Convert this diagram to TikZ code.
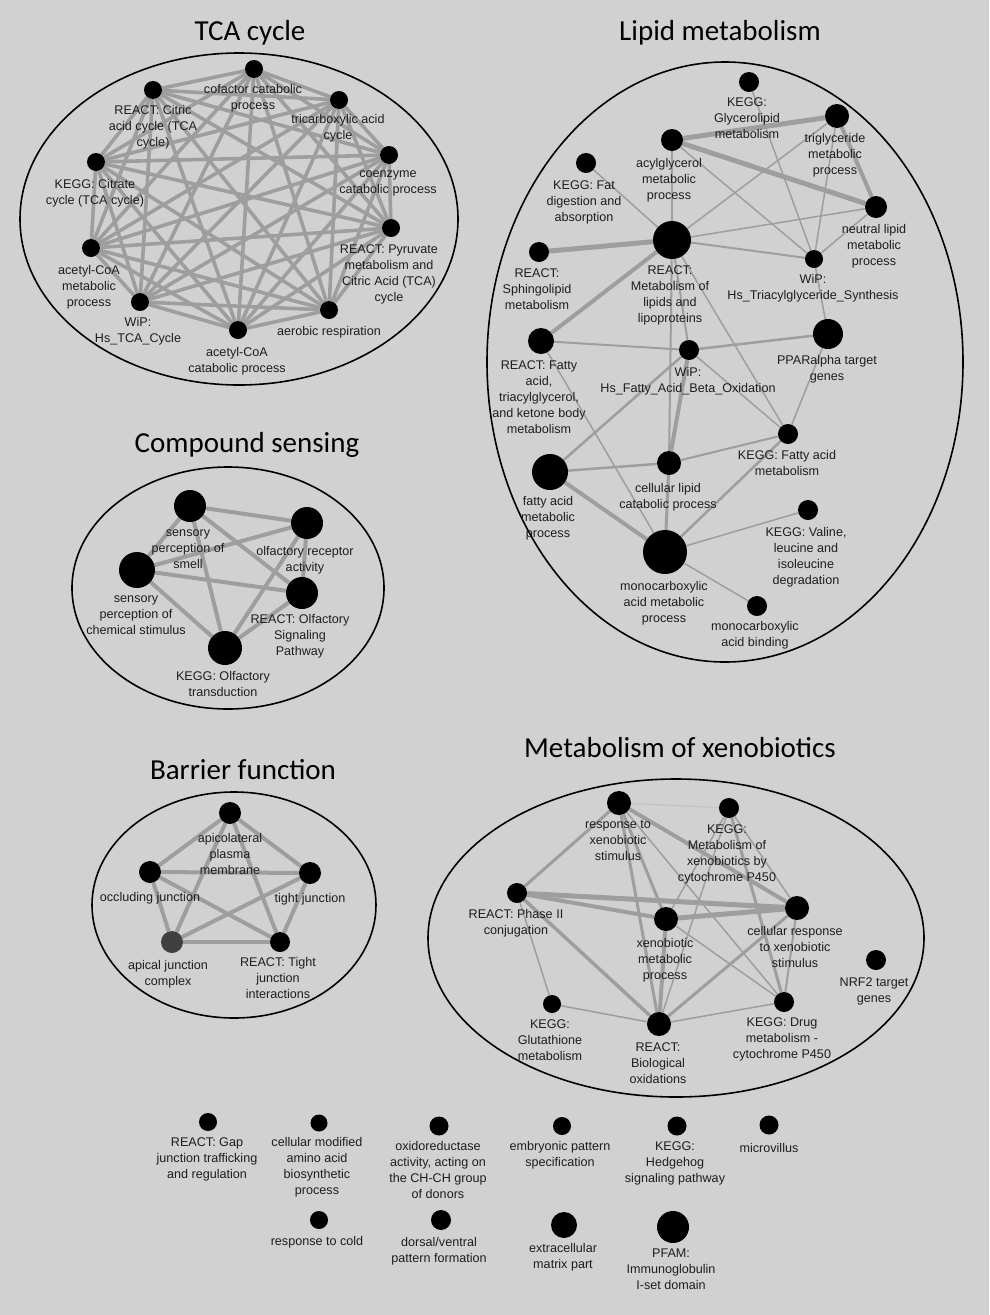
\documentclass[tikz,border=0pt]{standalone}
\usepackage{fontspec}
\setmainfont{Liberation Sans}
\newfontfamily\ttlfam{Carlito}
\usetikzlibrary{calc}
\definecolor{bgc}{RGB}{209,209,209}
\definecolor{edgec}{RGB}{158,158,158}
\definecolor{labelc}{RGB}{30,30,30}
\pgfdeclarelayer{back}
\pgfdeclarelayer{edges}
\pgfsetlayers{back,edges,main}
\newcommand\lblfont{\fontsize{12.6}{16}\selectfont}
\newcommand\ttlfont{\ttlfam\fontsize{29}{34}\selectfont}
\tikzset{
  dot/.style={circle, fill=black, draw=none, inner sep=0pt, minimum size=#1},
  lbl/.style={font=\lblfont, align=center, anchor=north, inner sep=0pt, yshift=4.9pt, text=labelc, execute at begin node=\strut},
  e/.style={draw=edgec, line width=#1},
  ttl/.style={font=\ttlfont, text=black, inner sep=0pt},
  grp/.style={draw=black, line width=1.6pt},
}
% name, x, y, diameter, label position, label text
\newcommand\nd[6]{\node[dot=#4] (#1) at (#2,#3) {}; \node[lbl] (#1l) at (#5) {#6};}
\newcommand\edg[3]{\draw[e=#1] (#2) -- (#3);}
\begin{document}
\begin{tikzpicture}[x=1pt,y=-1pt]
\useasboundingbox (0,0) rectangle (989,1315);
\begin{pgfonlayer}{back}
\fill[bgc] (0,0) rectangle (989,1315);
\draw[grp] (239,219) ellipse [x radius=219, y radius=166];
\draw[grp] (725,362) ellipse [x radius=238, y radius=300];
\draw[grp] (228,588) ellipse [x radius=156, y radius=121];
\draw[grp] (234,905) ellipse [x radius=142, y radius=113];
\draw[grp] (676,938) ellipse [x radius=248, y radius=159];
\end{pgfonlayer}

% titles
\node[ttl] (ttca) at (250,33) {TCA cycle};
\node[ttl] (tlip) at (720,33) {Lipid metabolism};
\node[ttl] (tcmp) at (247,445) {Compound sensing};
\node[ttl] (tbar) at (243,770) {Barrier function};
\node[ttl] (txen) at (680,748) {Metabolism of xenobiotics};

% ---------- TCA cycle ----------
\nd{t1}{254}{69}{18}{253,89}{cofactor catabolic\\process}
\nd{t2}{153}{90}{18}{153,110}{REACT: Citric\\acid cycle (TCA\\cycle)}
\nd{t3}{339}{100}{18}{338,119}{tricarboxylic acid\\cycle}
\nd{t4}{389}{155}{18}{388,175}{coenzyme\\catabolic process}
\nd{t5}{96}{162}{18}{95,184}{KEGG: Citrate\\cycle (TCA cycle)}
\nd{t6}{391}{228}{18}{389,249}{REACT: Pyruvate\\metabolism and\\Citric Acid (TCA)\\cycle}
\nd{t7}{91}{248}{18}{89,270}{acetyl-CoA\\metabolic\\process}
\nd{t8}{140}{302}{18}{138,322}{WiP:\\Hs\_TCA\_Cycle}
\nd{t9}{238}{330}{18}{237,352}{acetyl-CoA\\catabolic process}
\nd{t10}{329}{310}{18}{329,329}{aerobic respiration}
\begin{pgfonlayer}{edges}
\foreach \i in {1,...,9}{
  \pgfmathtruncatemacro\k{\i+1}
  \foreach \j in {\k,...,10}{\draw[e=3.6] (t\i) -- (t\j);}
}
\end{pgfonlayer}

% ---------- Lipid metabolism ----------
\nd{l1}{749}{82}{20}{747,102}{KEGG:\\Glycerolipid\\metabolism}
\nd{l2}{837}{116}{24}{835,138}{triglyceride\\metabolic\\process}
\nd{l3}{672}{140}{22}{669,163}{acylglycerol\\metabolic\\process}
\nd{l4}{586}{163}{20}{584,185}{KEGG: Fat\\digestion and\\absorption}
\nd{l5}{876}{207}{22}{874,229}{neutral lipid\\metabolic\\process}
\nd{l6}{672}{240}{38}{670,270}{REACT:\\Metabolism of\\lipids and\\lipoproteins}
\nd{l7}{539}{252}{20}{537,273}{REACT:\\Sphingolipid\\metabolism}
\nd{l8}{814}{259}{18}{813,279}{WiP:\\Hs\_Triacylglyceride\_Synthesis}
\nd{l9}{828}{334}{30}{827,360}{PPARalpha target\\genes}
\nd{l10}{541}{341}{26}{539,365}{REACT: Fatty\\acid,\\triacylglycerol,\\and ketone body\\metabolism}
\nd{l11}{689}{350}{20}{688,372}{WiP:\\Hs\_Fatty\_Acid\_Beta\_Oxidation}
\nd{l12}{788}{434}{20}{787,455}{KEGG: Fatty acid\\metabolism}
\nd{l13}{550}{472}{36}{548,501}{fatty acid\\metabolic\\process}
\nd{l14}{669}{463}{24}{668,488}{cellular lipid\\catabolic process}
\nd{l15}{808}{510}{20}{806,532}{KEGG: Valine,\\leucine and\\isoleucine\\degradation}
\nd{l16}{665}{552}{44}{664,586}{monocarboxylic\\acid metabolic\\process}
\nd{l17}{757}{606}{20}{755,626}{monocarboxylic\\acid binding}
\begin{pgfonlayer}{edges}
\edg{5}{l3}{l2}
\edg{5}{l3}{l5}
\edg{4}{l2}{l5}
\edg{1.5}{l3}{l8}
\edg{2}{l3}{l6}
\edg{1.5}{l1}{l8}
\edg{1.5}{l2}{l6}
\edg{1.5}{l2}{l8}
\edg{1.5}{l5}{l6}
\edg{1.5}{l5}{l8}
\edg{2}{l6}{l8}
\edg{1.5}{l6}{l4}
\edg{5}{l6}{l7}
\edg{4}{l6}{l10}
\edg{2}{l6}{l11}
\edg{2}{l6}{l14}
\edg{1.5}{l6}{l12}
\edg{1.5}{l8}{l9}
\edg{2}{l10}{l11}
\edg{2.5}{l11}{l9}
\edg{1.5}{l10}{l16}
\edg{2.5}{l11}{l13}
\edg{4}{l11}{l14}
\edg{1.5}{l11}{l12}
\edg{1.5}{l9}{l12}
\edg{2.5}{l13}{l14}
\edg{2}{l14}{l12}
\edg{4}{l13}{l16}
\edg{3}{l14}{l16}
\edg{2.5}{l12}{l16}
\edg{1.5}{l16}{l15}
\edg{1.5}{l16}{l17}
\end{pgfonlayer}

% ---------- Compound sensing ----------
\nd{c1}{190}{506}{32}{188,534}{sensory\\perception of\\smell}
\nd{c2}{307}{523}{32}{305,551}{olfactory receptor\\activity}
\nd{c3}{137}{570}{36}{136,600}{sensory\\perception of\\chemical stimulus}
\nd{c4}{302}{593}{32}{300,619}{REACT: Olfactory\\Signaling\\Pathway}
\nd{c5}{225}{648}{34}{223,676}{KEGG: Olfactory\\transduction}
\begin{pgfonlayer}{edges}
\foreach \i in {1,...,4}{
  \pgfmathtruncatemacro\k{\i+1}
  \foreach \j in {\k,...,5}{\draw[e=4] (c\i) -- (c\j);}
}
\end{pgfonlayer}

% ---------- Barrier function ----------
\nd{b1}{230}{813}{22}{230,838}{apicolateral\\plasma\\membrane}
\nd{b2}{150}{872}{22}{150,895}{occluding junction}
\nd{b3}{310}{873}{22}{310,896}{tight junction}
\node[dot=22, fill=black!75] (b4) at (172,942) {};
\node[lbl] (b4l) at (168,965) {apical junction\\complex};
\nd{b5}{280}{942}{20}{278,962}{REACT: Tight\\junction\\interactions}
\begin{pgfonlayer}{edges}
\foreach \i in {1,...,4}{
  \pgfmathtruncatemacro\k{\i+1}
  \foreach \j in {\k,...,5}{\draw[e=4] (b\i) -- (b\j);}
}
\end{pgfonlayer}

% ---------- Metabolism of xenobiotics ----------
\nd{x1}{619}{803}{24}{618,825}{response to\\xenobiotic\\stimulus}
\nd{x2}{729}{808}{20}{727,829}{KEGG:\\Metabolism of\\xenobiotics by\\cytochrome P450}
\nd{x3}{517}{893}{20}{516,914}{REACT: Phase II\\conjugation}
\nd{x4}{797}{908}{24}{795,931}{cellular response\\to xenobiotic\\stimulus}
\nd{x5}{666}{919}{24}{665,943}{xenobiotic\\metabolic\\process}
\nd{x6}{876}{960}{20}{874,982}{NRF2 target\\genes}
\nd{x7}{552}{1004}{18}{550,1024}{KEGG:\\Glutathione\\metabolism}
\nd{x8}{659}{1024}{24}{658,1047}{REACT:\\Biological\\oxidations}
\nd{x9}{784}{1002}{20}{782,1022}{KEGG: Drug\\metabolism -\\cytochrome P450}
\begin{pgfonlayer}{edges}
\draw[e=1.5, draw=edgec!60] (x1) -- (x2);
\edg{3}{x1}{x3}
\edg{3}{x1}{x5}
\edg{3}{x1}{x8}
\edg{4}{x1}{x4}
\edg{1.5}{x1}{x9}
\edg{1.5}{x2}{x4}
\edg{1.5}{x2}{x5}
\edg{1.5}{x2}{x8}
\edg{3}{x2}{x9}
\edg{5}{x3}{x4}
\edg{4}{x3}{x5}
\edg{3.5}{x3}{x8}
\edg{1.5}{x3}{x7}
\edg{5}{x5}{x4}
\edg{4}{x5}{x8}
\edg{1.5}{x5}{x9}
\edg{3}{x4}{x8}
\edg{2}{x4}{x9}
\edg{1.5}{x7}{x8}
\edg{1.5}{x8}{x9}
\end{pgfonlayer}

% ---------- unconnected ----------
\nd{u1}{208}{1122}{18}{207,1142}{REACT: Gap\\junction trafficking\\and regulation}
\nd{u2}{319}{1123}{17}{317,1142}{cellular modified\\amino acid\\biosynthetic\\process}
\nd{u3}{439}{1126}{19}{438,1146}{oxidoreductase\\activity, acting on\\the CH-CH group\\of donors}
\nd{u4}{562}{1126}{18}{560,1146}{embryonic pattern\\specification}
\nd{u5}{677}{1126}{19}{675,1146}{KEGG:\\Hedgehog\\signaling pathway}
\nd{u6}{769}{1125}{19}{769,1146}{microvillus}
\nd{u7}{319}{1220}{18}{317,1239}{response to cold}
\nd{u8}{441}{1220}{20}{439,1242}{dorsal/ventral\\pattern formation}
\nd{u9}{564}{1225}{26}{563,1248}{extracellular\\matrix part}
\nd{u10}{673}{1227}{32}{671,1254}{PFAM:\\Immunoglobulin\\I-set domain}
\end{tikzpicture}
\end{document}
